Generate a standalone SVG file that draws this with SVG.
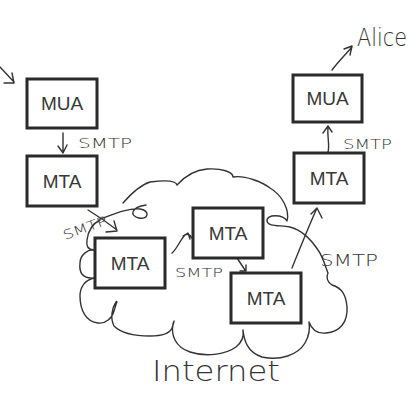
<svg xmlns="http://www.w3.org/2000/svg" width="420" height="420" viewBox="0 0 420 420">
<style>
.box{fill:#fff;stroke:#2a2a2a;stroke-width:3}
.lbl{font-family:"Liberation Sans",Arial,sans-serif;font-size:19px;fill:#383838;text-anchor:middle}
.ink{fill:none;stroke:#333;stroke-width:1.4;stroke-linecap:round;stroke-linejoin:round}
.hand{font-family:"DejaVu Sans","Liberation Sans",sans-serif;fill:#333;font-weight:300}
</style>
<rect width="420" height="420" fill="#fff"/>
<g id="cloud">
<path class="ink" d="M100,220 C92,224 88,232 87,240 C86,246 88,250 94,250 C88,249 80,255 80,263 C79,272 82,279 94,278 C85,280 80,287 80,296 C80,310 86,322 98,323 C106,324 112,318 114,311 C116,304 118,300 116,302 C112,308 110,318 114,326 C122,334 135,336 150,336 C162,336 170,333 172,328 C174,322 175,318 173,324 C171,335 175,347 190,352 C205,357 225,355 236,347 C242,342 244,336 243,330 C244,340 247,352 262,357 C280,361 298,355 305,343 C309,336 310,328 309,322 C312,330 318,334 326,333 C340,332 348,322 347,307 C346,295 342,288 332,285 C327,282 326,277 328,273 C325,265 322,255 318,250 C310,238 302,230 290,227 C280,225 268,227 267,221 C266,214 283,214 287,221 C290,210 282,195 270,188 C262,182 245,175 233,177 C233,172 222,168 207,169 C195,170 185,176 177,185 C176,180 165,180 150,182 C140,185 130,195 123,203"/>
<path class="ink" d="M100,219 C112,215 126,208 140,209 C150,210 149,220 139,218 C129,216 131,207 146,205"/>
</g>
<g id="connectors">
<path class="ink" d="M63,133 L63,153 M58,146 L63,153 L67,145"/>
<path class="ink" d="M328,152 C330,145 327,138 328,127 M323,133 L328,126 L332,132"/>
<path class="ink" d="M332,70 C338,62 345,55 352,47 M344,49 L352,46 L350,55"/>
<path class="ink" d="M0,67 L14,82 M4,83 L14,83 L12,73"/>
<path class="ink" d="M88,210 C98,216 108,223 117,230 M106,232 L117,231 L114,221"/>
<path class="ink" d="M172,253 C177,249 180,240 185,235 C188,233 190,235 192,238 M183,236 L188,233 L190,239"/>
<path class="ink" d="M237,258 L245,270 M240,271 L246,271 L246,265"/>
<path class="ink" d="M292,268 C300,248 308,228 317,208 M311,214 L317,208 L322,218"/>
</g>
<g id="mua-left"><rect class="box" x="27" y="79" width="70" height="49"/><text class="lbl" x="62" y="110">MUA</text></g>
<g id="mta-left"><rect class="box" x="27" y="156" width="70" height="50"/><text class="lbl" x="62" y="188">MTA</text></g>
<g id="mta-lowerleft"><rect class="box" x="95" y="238" width="70" height="50"/><text class="lbl" x="130" y="270">MTA</text></g>
<g id="mta-middle"><rect class="box" x="193" y="208" width="70" height="50"/><text class="lbl" x="228" y="240">MTA</text></g>
<g id="mta-bottom"><rect class="box" x="231" y="273" width="70" height="50"/><text class="lbl" x="266" y="305">MTA</text></g>
<g id="mta-right"><rect class="box" x="294" y="153" width="70" height="50"/><text class="lbl" x="329" y="185">MTA</text></g>
<g id="mua-right"><rect class="box" x="293" y="75" width="69" height="47"/><text class="lbl" x="327.5" y="105">MUA</text></g>
<g id="labels">
<text class="hand" x="78" y="148" font-size="14" textLength="54" lengthAdjust="spacingAndGlyphs">SMTP</text>
<text class="hand" x="343" y="149" font-size="14" textLength="49" lengthAdjust="spacingAndGlyphs">SMTP</text>
<text class="hand" x="65" y="240" font-size="13" textLength="46" lengthAdjust="spacingAndGlyphs" transform="rotate(-20 65 240)">SMTP</text>
<text class="hand" x="175" y="277" font-size="13" textLength="48" lengthAdjust="spacingAndGlyphs">SMTP</text>
<text class="hand" x="320" y="266" font-size="15" textLength="58" lengthAdjust="spacingAndGlyphs">SMTP</text>
<text class="hand" x="357" y="46" font-size="25" textLength="50" lengthAdjust="spacingAndGlyphs">Alice</text>
<text class="hand" x="152" y="381" font-size="28" textLength="128" lengthAdjust="spacingAndGlyphs">Internet</text>
</g>
</svg>
